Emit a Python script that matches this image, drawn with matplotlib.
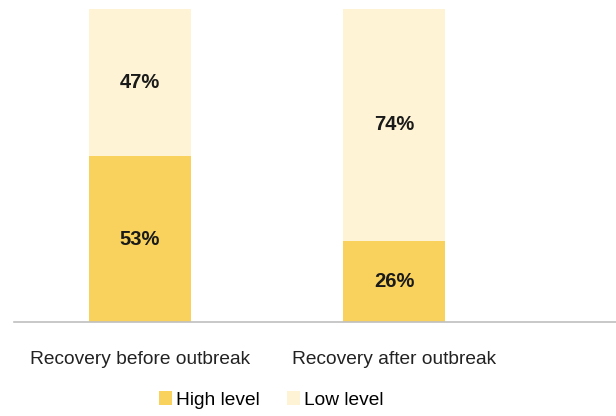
import numpy as np
import matplotlib.pyplot as plt

plt.rcParams['font.family'] = ['Liberation Sans', 'DejaVu Sans']

categories = ['Recovery before outbreak', 'Recovery after outbreak']
high_level = [53, 26]
low_level = [47, 74]
legend_labels = ['High level', 'Low level']

high_color = '#F8D25C'
low_color = '#FEF3D5'

fig = plt.figure(figsize=(6.16, 4.16), dpi=100)
ax = fig.add_axes([0.0227, 0.226, 0.9773, 0.752])

x = np.arange(len(categories))
b1 = ax.bar(x, high_level, width=0.4, color=high_color, label=legend_labels[0])
b2 = ax.bar(x, low_level, width=0.4, bottom=high_level, color=low_color, label=legend_labels[1])

for i in range(len(categories)):
    ax.text(x[i], high_level[i] / 2, '%d%%' % high_level[i], ha='center', va='center',
            fontsize=14.5, fontweight='bold', color='#1a1a1a')
    ax.text(x[i], high_level[i] + low_level[i] / 2, '%d%%' % low_level[i], ha='center', va='center',
            fontsize=14.5, fontweight='bold', color='#1a1a1a')

ax.set_xlim(-0.496, 1.874)
ax.set_ylim(0, 100)
ax.set_yticks([])
ax.set_xticks(x)
ax.set_xticklabels(categories, fontsize=13.8, color='#222222')
ax.tick_params(axis='x', length=0, pad=21)
for s in ['top', 'right', 'left']:
    ax.spines[s].set_visible(False)
ax.spines['bottom'].set_color('#BFBFBF')
ax.spines['bottom'].set_linewidth(1.2)

fig.legend(handles=[b1, b2], labels=legend_labels, loc='center', bbox_to_anchor=(0.44, 0.038),
           ncol=2, frameon=False, fontsize=13.8, handlelength=0.7, handleheight=0.7,
           handletextpad=0.2, columnspacing=1.4)

plt.savefig('out.png', dpi=100)
